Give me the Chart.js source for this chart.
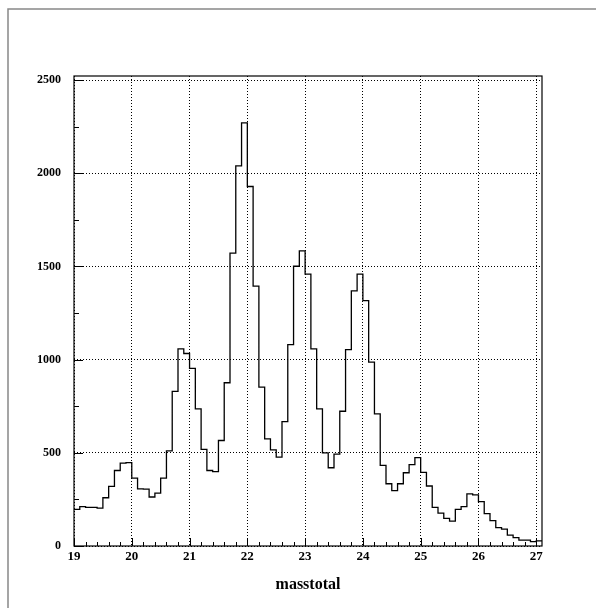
<!DOCTYPE html>
<html>
<head>
<meta charset="utf-8">
<script src="https://cdn.jsdelivr.net/npm/chart.js@4.4.0/dist/chart.umd.min.js"></script>
<style>
  html, body { margin: 0; padding: 0; background: #fff; }
  #wrap { width: 599px; height: 608px; position: relative; }
</style>
</head>
<body>
<div id="wrap"><canvas id="histo" width="599" height="608"></canvas></div>
<script>
// bin edges (low edge of each 0.1 wide bin, plus the last upper edge)
const binEdges = [
  19.0, 19.1, 19.2, 19.3, 19.4, 19.5, 19.6, 19.7, 19.8, 19.9,
  20.0, 20.1, 20.2, 20.3, 20.4, 20.5, 20.6, 20.7, 20.8, 20.9,
  21.0, 21.1, 21.2, 21.3, 21.4, 21.5, 21.6, 21.7, 21.8, 21.9,
  22.0, 22.1, 22.2, 22.3, 22.4, 22.5, 22.6, 22.7, 22.8, 22.9,
  23.0, 23.1, 23.2, 23.3, 23.4, 23.5, 23.6, 23.7, 23.8, 23.9,
  24.0, 24.1, 24.2, 24.3, 24.4, 24.5, 24.6, 24.7, 24.8, 24.9,
  25.0, 25.1, 25.2, 25.3, 25.4, 25.5, 25.6, 25.7, 25.8, 25.9,
  26.0, 26.1, 26.2, 26.3, 26.4, 26.5, 26.6, 26.7, 26.8, 26.9,
  27.0, 27.1
];

// counts per bin
const counts = [
  196, 211, 207, 207, 203, 259, 320, 405, 445, 447,
  364, 307, 305, 263, 284, 364, 510, 830, 1058, 1033,
  953, 736, 518, 405, 399, 566, 876, 1572, 2040, 2270,
  1929, 1394, 853, 575, 516, 477, 667, 1081, 1501, 1584,
  1459, 1058, 736, 500, 420, 493, 723, 1054, 1369, 1459,
  1317, 987, 709, 433, 334, 297, 334, 393, 437, 474,
  395, 322, 207, 176, 148, 134, 196, 211, 280, 274,
  238, 174, 136, 99, 91, 58, 45, 32, 32, 24,
  27
];

const xTitle = 'masstotal';
const yMajorTicks = [0, 500, 1000, 1500, 2000, 2500];

// histogram outline points: each bin's value starts at its low edge
const histPoints = counts.map((c, i) => ({ x: binEdges[i], y: c }));
histPoints.push({ x: binEdges[binEdges.length - 1], y: counts[counts.length - 1] });

const serif = "'Liberation Serif', 'DejaVu Serif', serif";

// ROOT style frame, inward tick marks and the canvas edge lines
const rootFrame = {
    id: 'rootFrame',
    beforeDraw(chart) {
        const ctx = chart.ctx;
        ctx.save();
        ctx.fillStyle = '#fff';
        ctx.fillRect(0, 0, chart.width, chart.height);
        ctx.strokeStyle = '#888';
        ctx.lineWidth = 1.5;
        ctx.beginPath();
        ctx.moveTo(8, chart.height);
        ctx.lineTo(8, 9);
        ctx.lineTo(596, 9);
        ctx.stroke();
        ctx.restore();
    },
    afterDatasetsDraw(chart) {
        const ctx = chart.ctx;
        const a = chart.chartArea;
        const xs = chart.scales.x;
        const ys = chart.scales.y;
        ctx.save();
        ctx.strokeStyle = '#000';
        ctx.lineWidth = 1;
        ctx.beginPath();
        // x ticks every 0.2, major at integers
        for (let i = 0; i <= 40; i++) {
            const v = 19 + i * 0.2;
            if (v > xs.max + 1e-9) break;
            const px = Math.round(xs.getPixelForValue(v)) + 0.5;
            const len = (i % 5 === 0) ? 8 : 4;
            ctx.moveTo(px, a.bottom);
            ctx.lineTo(px, a.bottom - len);
        }
        // y ticks every 250, major at 500
        for (let i = 0; i <= 10; i++) {
            const v = i * 250;
            const py = Math.round(ys.getPixelForValue(v)) + 0.5;
            const len = (i % 2 === 0) ? 9 : 5;
            ctx.moveTo(a.left, py);
            ctx.lineTo(a.left + len, py);
        }
        ctx.stroke();
        ctx.lineWidth = 1.2;
        ctx.strokeRect(a.left, a.top, a.right - a.left, a.bottom - a.top);
        ctx.restore();
    }
};

const ctx = document.getElementById('histo').getContext('2d');
window.histChart = new Chart(ctx, {
    type: 'line',
    data: {
        datasets: [{
            data: histPoints,
            stepped: 'before',
            borderColor: '#000',
            borderWidth: 1.3,
            pointRadius: 0,
            fill: false,
            tension: 0
        }]
    },
    options: {
        responsive: false,
        animation: false,
        layout: { padding: { left: 0, right: 57, top: 76, bottom: 0 } },
        plugins: {
            legend: { display: false },
            tooltip: { enabled: false }
        },
        scales: {
            x: {
                type: 'linear',
                min: 19,
                max: 27.1,
                afterFit: (scale) => { scale.height = 62; },
                ticks: {
                    stepSize: 1,
                    includeBounds: false,
                    color: '#000',
                    padding: 3,
                    maxRotation: 0,
                    callback: (v) => String(v),
                    font: { family: serif, size: 13, weight: 'bold' }
                },
                grid: {
                    color: '#000',
                    lineWidth: 1,
                    drawTicks: false,
                    tickLength: 0
                },
                border: { display: false, dash: [1, 2] },
                title: {
                    display: true,
                    text: xTitle,
                    color: '#000',
                    font: { family: serif, size: 16, weight: 'bold' },
                    padding: { top: 0, bottom: 14 }
                }
            },
            y: {
                min: 0,
                max: 2522,
                afterFit: (scale) => { scale.width = 74; },
                afterBuildTicks: (scale) => {
                    scale.ticks = yMajorTicks.map(v => ({ value: v }));
                },
                ticks: {
                    color: '#000',
                    padding: 13,
                    callback: (v) => String(v),
                    font: { family: serif, size: 12, weight: 'bold' }
                },
                grid: {
                    color: '#000',
                    lineWidth: 1,
                    drawTicks: false,
                    tickLength: 0
                },
                border: { display: false, dash: [1, 2] }
            }
        }
    },
    plugins: [rootFrame]
});
</script>
</body>
</html>
